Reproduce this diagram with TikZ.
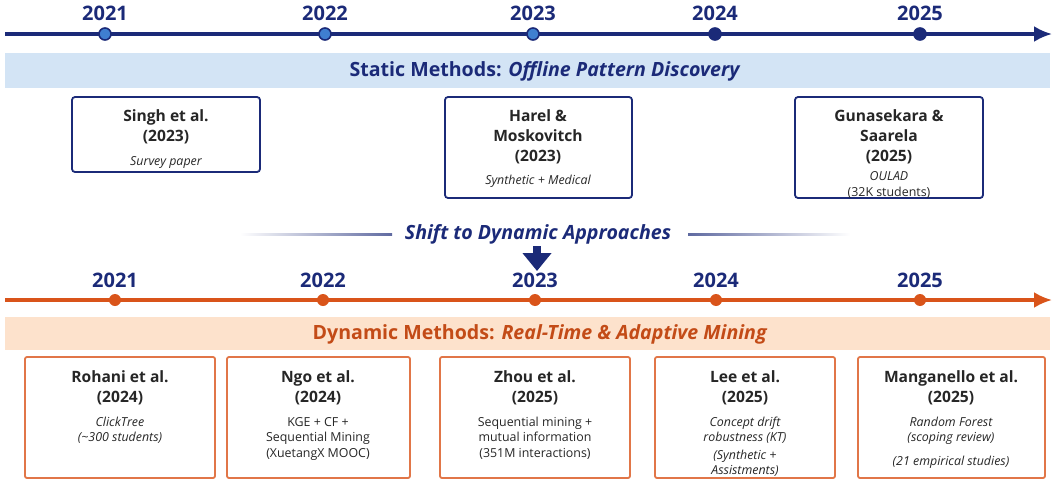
\documentclass[tikz,border=0pt]{standalone}
\usepackage{fontspec}
\setmainfont{Open Sans}
\usetikzlibrary{arrows.meta}
\definecolor{navy}{HTML}{1B2A78}
\definecolor{lblue}{HTML}{D3E4F5}
\definecolor{dotblue}{HTML}{3F7FD0}
\definecolor{orng}{HTML}{D9541A}
\definecolor{peach}{HTML}{FDE2CC}
\newcommand\bsb{\fontsize{6.2}{7.8}\selectfont\itshape\mdseries}
\newcommand\bsu{\fontsize{6.2}{7.8}\selectfont\upshape\mdseries}
\begin{document}
\begin{tikzpicture}[x=0.5pt,y=-0.5pt,
 year/.style={font=\bfseries\fontsize{10}{12}\selectfont,text=navy},
 tbox/.style={draw=navy,line width=0.9pt,rounded corners=1.5pt},
 obox/.style={draw=orng!80,line width=0.9pt,rounded corners=1pt},
 btitle/.style={anchor=north,align=center,font=\fontsize{7.8}{9.8}\selectfont\bfseries,text=black!85}]
\useasboundingbox (0,0) rectangle (1055,498);
% top timeline
\draw[navy,line width=1.6pt,-{Latex[length=9pt,width=8pt]}] (5,34) -- (1052,34);
\foreach \x/\y/\f in {105/2021/dotblue,325/2022/dotblue,533/2023/dotblue,715/2024/navy,920/2025/navy}{
  \node[year] at (\x,13) {\y};
  \node[circle,draw=navy,fill=\f,line width=0.8pt,inner sep=0pt,minimum size=6pt] at (\x,34) {};}
\fill[lblue] (5,53) rectangle (1050,88);
\node[font=\bfseries\fontsize{9.8}{11}\selectfont,text=navy] at (545,71) {Static Methods: \textit{Offline Pattern Discovery}};
\draw[tbox] (72,97) rectangle (260,172);
\node[btitle] (s1) at (166,103) {Singh et al.\\(2023)\\[2pt]{\bsb Survey paper}};
\draw[tbox] (445,97) rectangle (632,198);
\node[btitle] (s2) at (538,103) {Harel \&\\Moskovitch\\(2023)\\[2pt]{\bsb Synthetic + Medical}};
\draw[tbox] (795,97) rectangle (983,198);
\node[btitle] (s3) at (889,103) {Gunasekara \&\\Saarela\\(2025)\\[0pt]{\bsb OULAD}\\[-2pt]{\bsu (32K students)}};
% shift
\node[font=\bfseries\itshape\fontsize{9.8}{11}\selectfont,text=navy] (sh) at (538,234) {Shift to Dynamic Approaches};
\shade[left color=white,right color=navy!70] (240,233.5) rectangle (392,235);
\shade[left color=navy!70,right color=white] (688,233.5) rectangle (850,235);
\draw[navy,line width=4pt,-{Triangle[length=9pt,width=14pt]}] (537,246) -- (537,271);
% bottom timeline
\draw[orng,line width=1.6pt,-{Latex[length=9pt,width=8pt]}] (5,300) -- (1052,300);
\foreach \x/\y in {115/2021,323/2022,535/2023,716/2024,920/2025}{
  \node[year] at (\x,280) {\y};
  \node[circle,fill=orng,inner sep=0pt,minimum size=6pt] at (\x,300) {};}
\fill[peach] (5,317) rectangle (1050,350);
\node[font=\bfseries\fontsize{9.8}{11}\selectfont,text=orng!90!black] at (540,334) {Dynamic Methods: \textit{Real-Time \& Adaptive Mining}};
\draw[obox] (25,357) rectangle (215,478);
\node[btitle] (d1) at (120,364) {Rohani et al.\\(2024)\\[2pt]{\bsb ClickTree}\\[-2pt]{\bsb (\textasciitilde300 students)}};
\draw[obox] (227,357) rectangle (410,478);
\node[btitle] (d2) at (318,364) {Ngo et al.\\(2024)\\[2pt]{\bsu KGE + CF +}\\[-2pt]{\bsu Sequential Mining}\\[-2pt]{\bsu (XuetangX MOOC)}};
\draw[obox] (440,357) rectangle (630,478);
\node[btitle] (d3) at (535,364) {Zhou et al.\\(2025)\\[2pt]{\bsu Sequential mining +}\\[-2pt]{\bsu mutual information}\\[-2pt]{\bsu (351M interactions)}};
\draw[obox] (655,357) rectangle (835,478);
\node[btitle] (d4) at (745,364) {Lee et al.\\(2025)\\[2pt]{\bsb Concept drift}\\[-2pt]{\bsb robustness (KT)}\\[-1pt]{\bsb (Synthetic +}\\[-2pt]{\bsb Assistments)}};
\draw[obox] (858,357) rectangle (1045,478);
\node[btitle] (d5) at (951,364) {Manganello et al.\\(2025)\\[2pt]{\bsb Random Forest}\\[-2pt]{\bsb (scoping review)}\\[2pt]{\bsb (21 empirical studies)}};
\end{tikzpicture}
\end{document}
